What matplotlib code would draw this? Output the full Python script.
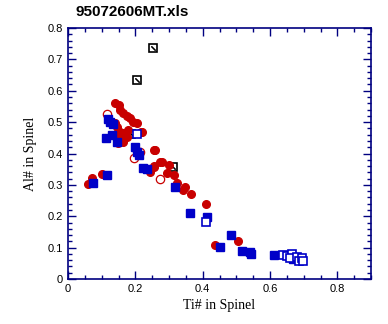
import matplotlib
matplotlib.use("Agg")
import matplotlib.pyplot as plt
from matplotlib.ticker import MultipleLocator

# red filled circles
red_x = [0.140, 0.152, 0.155, 0.163, 0.175, 0.184, 0.193, 0.205, 0.217, 0.146,
         0.155, 0.163, 0.146, 0.160, 0.175, 0.178, 0.149, 0.140, 0.163, 0.259,
         0.273, 0.220, 0.071, 0.059, 0.101, 0.244, 0.256, 0.256, 0.279, 0.300,
         0.294, 0.315, 0.324, 0.342, 0.348, 0.366, 0.410, 0.505, 0.437, 0.256]
red_y = [0.561, 0.554, 0.538, 0.529, 0.519, 0.513, 0.500, 0.497, 0.468, 0.484,
         0.468, 0.465, 0.452, 0.449, 0.452, 0.475, 0.433, 0.497, 0.436, 0.411,
         0.373, 0.468, 0.322, 0.303, 0.334, 0.341, 0.357, 0.360, 0.373, 0.363,
         0.338, 0.331, 0.306, 0.283, 0.293, 0.271, 0.239, 0.121, 0.108, 0.411]

# red open circles
redo_x = [0.116, 0.196, 0.214, 0.273]
redo_y = [0.525, 0.385, 0.404, 0.318]

# blue filled squares
blue_x = [0.119, 0.125, 0.134, 0.113, 0.131, 0.146, 0.199, 0.205, 0.211, 0.223,
          0.235, 0.074, 0.116, 0.318, 0.363, 0.413, 0.484, 0.452, 0.517, 0.541,
          0.544, 0.612, 0.669]
blue_y = [0.510, 0.500, 0.494, 0.449, 0.459, 0.436, 0.420, 0.404, 0.395, 0.354,
          0.350, 0.306, 0.331, 0.293, 0.210, 0.197, 0.140, 0.102, 0.089, 0.086,
          0.080, 0.076, 0.064]

# blue open squares
blueo_x = [0.205, 0.410, 0.639, 0.651, 0.666, 0.660, 0.681, 0.687, 0.695, 0.698]
blueo_y = [0.462, 0.182, 0.076, 0.073, 0.080, 0.067, 0.070, 0.057, 0.067, 0.057]

# black boxed markers
box_x = [0.253, 0.205, 0.312, 0.187]
box_y = [0.736, 0.634, 0.357, 0.462]

red = '#c80000'
blue = '#0000c8'
navy = '#000080'

fig = plt.figure(figsize=(3.88, 3.24), dpi=100)
ax = fig.add_axes([68/388, 1-279/324, (371-68)/388, (279-28)/324])

ax.plot(box_x, box_y, 's', ms=5.5, mfc='white', mec='black', mew=1.2, zorder=2)
ax.plot(box_x, box_y, marker=(2, 2, 45), ls='none', ms=4, mec='black', mew=0.8, zorder=2)
ax.plot(red_x, red_y, 'o', ms=5.5, mfc=red, mec=red, zorder=3)
ax.plot(redo_x, redo_y, 'o', ms=6, mfc='white', mec=red, mew=0.9, zorder=3)
ax.plot(blue_x, blue_y, 's', ms=5.5, mfc=blue, mec=blue, zorder=4)
ax.plot(blueo_x, blueo_y, 's', ms=5.5, mfc='white', mec=blue, mew=1.2, zorder=4)

ax.set_xlim(0, 0.9)
ax.set_ylim(0, 0.8)
ax.set_xticks([0, 0.2, 0.4, 0.6, 0.8])
ax.set_xticklabels(['0', '0.2', '0.4', '0.6', '0.8'])
ax.set_yticks([0, 0.1, 0.2, 0.3, 0.4, 0.5, 0.6, 0.7, 0.8])
ax.set_yticklabels(['0', '0.1', '0.2', '0.3', '0.4', '0.5', '0.6', '0.7', '0.8'])
ax.xaxis.set_minor_locator(MultipleLocator(0.05))
ax.yaxis.set_minor_locator(MultipleLocator(0.02))
ax.tick_params(which='both', direction='in', top=True, right=True, color=navy,
               labelsize=8, labelcolor='black')
ax.tick_params(which='major', length=6, width=1)
ax.tick_params(which='minor', length=3, width=1)
for lab in ax.get_xticklabels() + ax.get_yticklabels():
    lab.set_family('Liberation Sans')
for s in ax.spines.values():
    s.set_color(navy)
    s.set_linewidth(1.2)

ax.set_xlabel('Ti# in Spinel', family='Liberation Serif', fontsize=10, labelpad=4)
ax.set_ylabel('Al# in Spinel', family='Liberation Serif', fontsize=10, labelpad=8)
fig.text(76/388, 1-12/324, '95072606MT.xls', family='Liberation Sans',
         fontweight='bold', fontsize=11, va='center', ha='left')

fig.savefig('out.png', dpi=100)
